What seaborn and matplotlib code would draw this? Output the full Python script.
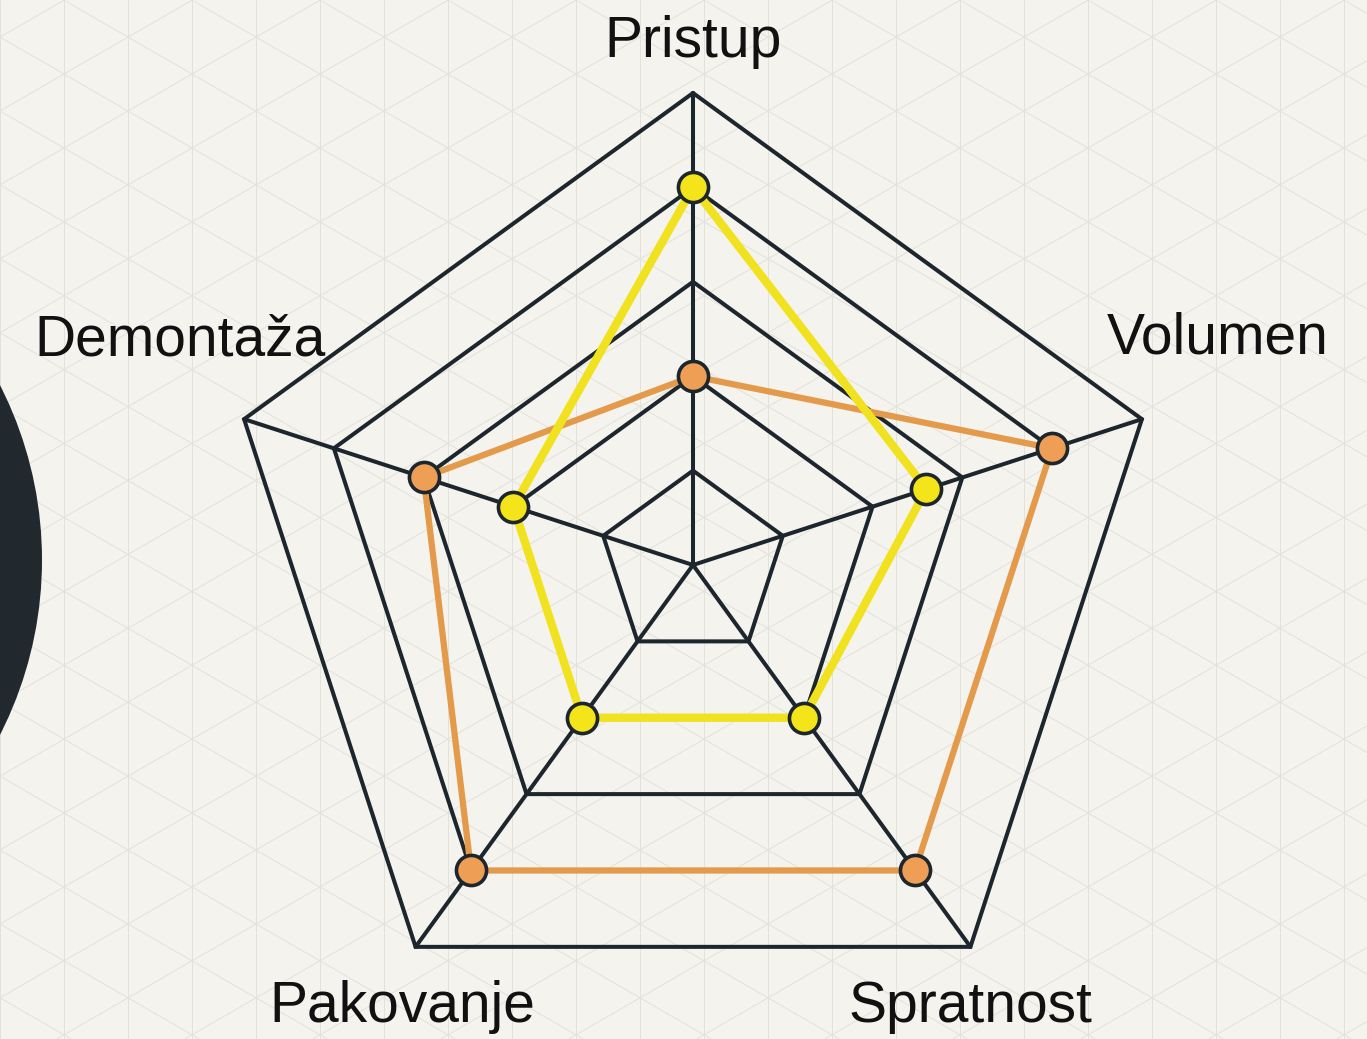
import numpy as np
import pandas as pd
import seaborn as sns
import matplotlib.pyplot as plt
from matplotlib.patches import Circle

# radar data (scale 0-5)
categories = ['Pristup', 'Volumen', 'Spratnost', 'Pakovanje', 'Demontaža']
yellow_vals = [4, 2.6, 2, 2, 2]
orange_vals = [2, 4, 4, 4, 3]
levels = [1, 2, 3, 4, 5]

sns.set_theme(style="white")
plt.rcParams['font.family'] = ['Liberation Sans', 'DejaVu Sans']

W, H = 1367, 1039
cx, cy, R = 693, 565, 472
vmax = 5
ink = '#1d262d'

angles = np.deg2rad(90 - 72 * np.arange(len(categories)))


def to_xy(vals):
    r = np.asarray(vals, dtype=float) / vmax * R
    return cx + r * np.cos(angles), cy - r * np.sin(angles)


fig = plt.figure(figsize=(W / 100, H / 100), dpi=100)
fig.patch.set_facecolor('#f4f3ee')
ax = fig.add_axes([0, 0, 1, 1])
ax.set_facecolor('#f4f3ee')
ax.set_xlim(0, W)
ax.set_ylim(H, 0)
ax.axis('off')

# isometric paper in the background
d = 64
s = d / np.cos(np.pi / 6)
t = np.tan(np.pi / 6)
paper = '#e2e1da'
for x in np.arange(-d, W + d, d):
    ax.plot([x, x], [0, H], color=paper, lw=0.7, zorder=0)
xs = np.array([0, W])
for c in np.arange(-W, H + W, s):
    ax.plot(xs, t * xs + c, color=paper, lw=0.7, zorder=0)
    ax.plot(xs, -t * xs + c, color=paper, lw=0.7, zorder=0)

# big dark ring cut by the left edge
ax.add_patch(Circle((-343, 560), 360, fill=False, lw=36, ec='#22292e', zorder=1))

# pentagon grid
for lv in levels:
    gx, gy = to_xy([lv] * len(categories))
    ax.plot(np.append(gx, gx[0]), np.append(gy, gy[0]), color=ink, lw=2.9,
            zorder=2, solid_joinstyle='miter')
ox, oy = to_xy([vmax] * len(categories))
for x, y in zip(ox, oy):
    ax.plot([cx, x], [cy, y], color=ink, lw=2.9, zorder=2)

# axis labels
label_off = [(0, -36), (76, -66), (0, 75), (-13, 75), (-64, -64)]
for name, x, y, (dx, dy) in zip(categories, ox, oy, label_off):
    ax.text(x + dx, y + dy, name, ha='center', va='baseline', fontsize=41,
            color='#111111', zorder=5)

# series
rows = []
for series, vals in [('orange', orange_vals), ('yellow', yellow_vals)]:
    px, py = to_xy(vals)
    for i, cat in enumerate(categories + [categories[0]]):
        k = i % len(categories)
        rows.append({'series': series, 'order': i, 'cat': cat, 'x': px[k], 'y': py[k]})
df = pd.DataFrame(rows)

line_col = {'orange': '#e49a4b', 'yellow': '#f1e21f'}
fill_col = {'orange': '#ee9f55', 'yellow': '#f3e519'}
line_w = {'orange': 4.5, 'yellow': 6}
for series in ['orange', 'yellow']:
    sub = df[df['series'] == series]
    sns.lineplot(data=sub, x='x', y='y', sort=False, estimator=None,
                 color=line_col[series], lw=line_w[series], ax=ax, zorder=3)
for series in ['yellow', 'orange']:
    sub = df[(df['series'] == series) & (df['order'] < len(categories))]
    sns.scatterplot(data=sub, x='x', y='y', s=470, color=fill_col[series],
                    edgecolor=ink, linewidth=2.6, ax=ax, zorder=4)

ax.set_xlim(0, W)
ax.set_ylim(H, 0)
ax.set_xlabel('')
ax.set_ylabel('')
fig.savefig('out.png', dpi=100, facecolor=fig.get_facecolor())
